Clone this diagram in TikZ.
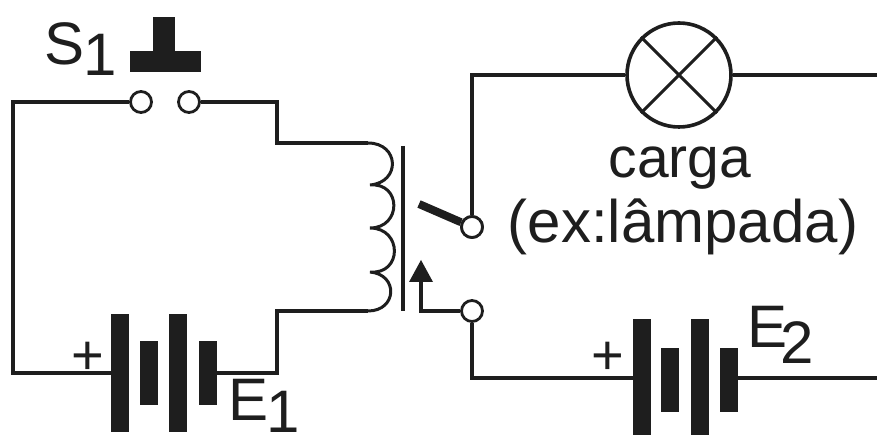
\documentclass[tikz,border=0pt]{standalone}
\usepackage{fontspec}
\setmainfont{Liberation Sans}
\definecolor{ink}{HTML}{1E1E1E}
\tikzset{
	wire/.style={draw=ink, line width=3.6pt},
	label/.style={text=ink, inner sep=0pt, anchor=base west, font=\fontsize{60}{62}\selectfont},
	terminal/.style={circle, draw=ink, fill=white, line width=2.8pt, minimum size=21pt, inner sep=0pt},
	plate/.style={fill=ink, draw=none, inner sep=0pt, minimum width=18pt},
	longplate/.style={plate, minimum height=118pt},
	shortplate/.style={plate, minimum height=64pt},
	plusmark/.style={text=ink, inner sep=0pt, font=\fontsize{56}{56}\selectfont}
}
\begin{document}
\begin{tikzpicture}[x=1pt, y=-1pt]
	\useasboundingbox (0,0) rectangle (877,435);
	% switch S1
	\node[label] (s) at (44,65) {S};
	\node[label] (s1) at (83,76) {1};
	\node[fill=ink, inner sep=0pt, minimum width=22pt, minimum height=38pt] (stem) at (164,36) {};
	\node[fill=ink, inner sep=0pt, minimum width=71pt, minimum height=21pt] (knob) at (165,62) {};
	\node[terminal] (sa) at (141,102) {};
	\node[terminal] (sb) at (189,102) {};
	% battery E1
	\node[longplate] (a1) at (120,373) {};
	\node[shortplate] (a2) at (149,373) {};
	\node[longplate] (a3) at (178,373) {};
	\node[shortplate] (a4) at (208,373) {};
	\node[plusmark] (aplus) at (88,358) {+};
	\node[label] (e) at (228,420) {E};
	\node[label] (e1) at (266,432) {1};
	% coil
	\coordinate (c0) at (368,143);
	\coordinate (c1) at (370,185);
	\coordinate (c2) at (370,228);
	\coordinate (c3) at (370,272);
	\coordinate (c4) at (368,311);
	\coordinate (tl) at (13,101);
	\coordinate (bl) at (13,373);
	\coordinate (r1) at (277,101);
	\coordinate (r2) at (277,143);
	\coordinate (r3) at (277,373);
	\coordinate (r4) at (277,311);
	\draw[wire] (sa) -- (sa -| tl) -- (bl) -- (a1);
	\draw[wire] (sb) -- (sb -| r1) -- (r2) -- (c0);
	\draw[wire] (a4) -- (r3) -- (r4) -- (c4);
	\draw[wire, line width=3pt] (c0) to[out=0, in=5, looseness=1.9] (c1)
		to[out=5, in=0, looseness=1.9] (c2)
		to[out=0, in=-5, looseness=1.9] (c3)
		to[out=-5, in=0, looseness=1.9] (c4);
	\coordinate (core0) at (403,146);
	\coordinate (core1) at (403,311);
	\draw[wire] (core0) -- (core1);
	% contacts
	\node[terminal] (no) at (472,227) {};
	\node[terminal] (nc) at (472,311) {};
	\coordinate (arm) at (419,204);
	\draw[draw=ink, line width=8pt] (arm) -- (no);
	\node[terminal] at (no) {};
	\coordinate (tip) at (421,260);
	\coordinate (foot) at (421,311);
	\draw[wire] (nc) -- (foot) -- (tip |- 0,278);
	\fill[ink] (tip) -- (433,282) -- (409,282) -- cycle;
	% lamp
	\node[circle, draw=ink, fill=white, line width=3.6pt, minimum size=104pt, inner sep=0pt] (lamp) at (679,75) {};
	\draw[wire, line width=3pt] (lamp.north west) -- (lamp.south east);
	\draw[wire, line width=3pt] (lamp.north east) -- (lamp.south west);
	\coordinate (lt) at (472,75);
	\coordinate (rt) at (877,75);
	\draw[wire] (no) -- (lt) -- (lamp);
	\draw[wire] (lamp) -- (rt);
	\node[label, anchor=base, font=\fontsize{57}{60}\selectfont] (carga) at (680,178) {carga};
	\node[label, anchor=base] (ex) at (683,243) {(ex:lâmpada)};
	% battery E2
	\node[longplate] (b1) at (642,378) {};
	\node[shortplate] (b2) at (670,380) {};
	\node[longplate] (b3) at (700,378) {};
	\node[shortplate] (b4) at (729,380) {};
	\node[plusmark] (bplus) at (608,358) {+};
	\node[label] (f) at (747,347) {E};
	\node[label] (f2) at (780,363) {2};
	\coordinate (lb) at (472,378);
	\coordinate (rb) at (877,378);
	\draw[wire] (nc) -- (lb) -- (b1);
	\draw[wire] (b4.east |- rb) -- (rb);
\end{tikzpicture}
\end{document}
